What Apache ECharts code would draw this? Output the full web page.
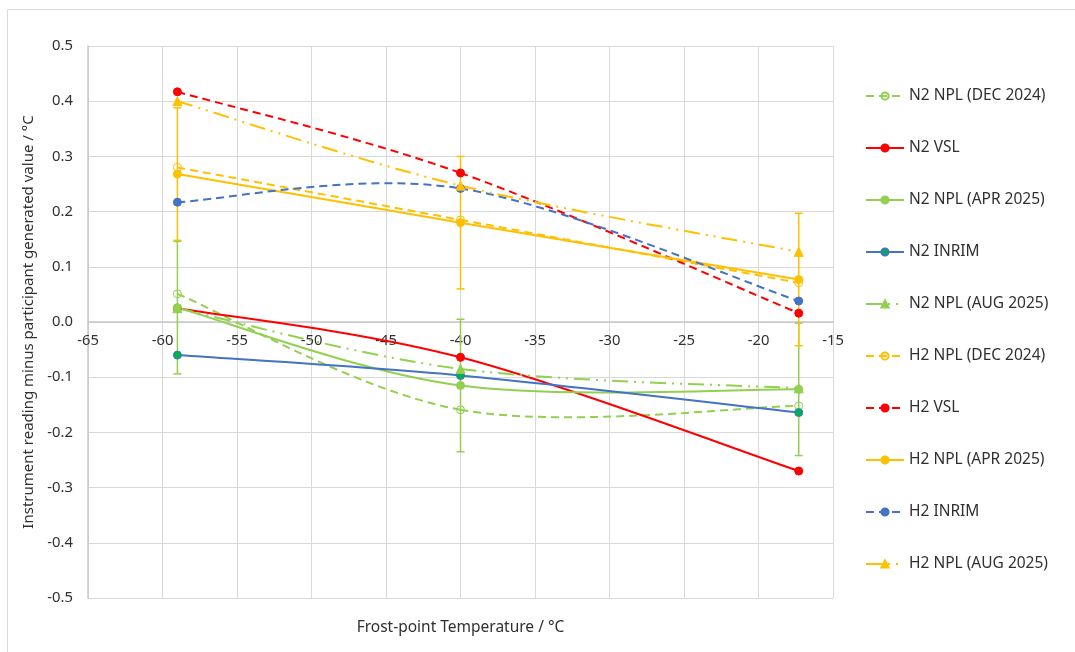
<!DOCTYPE html>
<html>
<head>
<meta charset="utf-8">
<script src="https://cdn.jsdelivr.net/npm/echarts@6/dist/echarts.min.js"></script>
<style>
html,body{margin:0;padding:0;background:#fff;}
#chart{width:1075px;height:652px;}
</style>
</head>
<body>
<div id="chart"></div>
<script>
// ---- data ----
const xValues = [-59, -40, -17.3];
const n2NplDec = [0.051, -0.159, -0.152];
const n2Vsl    = [0.025, -0.064, -0.270];
const n2NplApr = [0.026, -0.115, -0.122];
const n2Inrim  = [-0.060, -0.097, -0.164];
const n2NplAug = [0.025, -0.085, -0.120];
const h2NplDec = [0.280, 0.185, 0.071];
const h2Vsl    = [0.417, 0.270, 0.016];
const h2NplApr = [0.268, 0.180, 0.077];
const h2Inrim  = [0.217, 0.242, 0.038];
const h2NplAug = [0.400, 0.247, 0.127];
const n2NplAprErr = [0.12, 0.12, 0.12];
const h2NplAprErr = [0.12, 0.12, 0.12];
const seriesNames = ['N2 NPL (DEC 2024)','N2 VSL','N2 NPL (APR 2025)','N2 INRIM','N2 NPL (AUG 2025)',
                     'H2 NPL (DEC 2024)','H2 VSL','H2 NPL (APR 2025)','H2 INRIM','H2 NPL (AUG 2025)'];
const xTicks = {min: -65, max: -15, interval: 5};
const yTicks = {min: -0.5, max: 0.5, interval: 0.1};

const GREEN = '#92D050', RED = '#FF0000', BLUE = '#4472C4', GOLD = '#FFC000', TEAL = '#00B050';
const FONT = 'Noto Sans';
const DASH = [8, 5];
const LDDD = [16, 6, 2, 6, 2, 6];

function pts(arr){ return xValues.map((x,i)=>[x, arr[i]]); }

// smoothed curve (Catmull-Rom style, like a spreadsheet's smoothed line) through the axis coordinates
function curveSeries(arr, color, dash){
  return {
    type: 'custom', silent: true, z: 3,
    data: pts(arr), encode: {x: 0, y: 1},
    renderItem: function(params, api){
      if (params.dataIndex !== 0) return null;
      const p = xValues.map((x,i)=>api.coord([x, arr[i]]));
      const n = p.length, kids = [];
      for (let i = 0; i < n - 1; i++){
        const a = p[Math.max(i-1,0)], b = p[i], c = p[i+1], d = p[Math.min(i+2,n-1)];
        kids.push({type: 'bezierCurve', shape: {
          x1: b[0], y1: b[1], x2: c[0], y2: c[1],
          cpx1: b[0] + (c[0]-a[0])/6, cpy1: b[1] + (c[1]-a[1])/6,
          cpx2: c[0] - (d[0]-b[0])/6, cpy2: c[1] - (d[1]-b[1])/6},
          style: {fill: null, stroke: color, lineWidth: 2, lineDash: dash || null}});
      }
      return {type: 'group', children: kids};
    }
  };
}
function markerSeries(name, arr, color, dash, symbol, fill, border){
  return {
    name: name, type: 'line', data: pts(arr),
    symbol: symbol, symbolSize: symbol === 'triangle' ? 9 : 8,
    lineStyle: {color: color, width: 2, type: dash || 'solid', opacity: 0},
    itemStyle: {color: fill, borderColor: border || fill, borderWidth: 1},
    z: 4
  };
}
function errSeries(arr, err, color){
  return {
    type: 'custom', silent: true, z: 2,
    data: xValues.map((x,i)=>[x, arr[i], err[i]]),
    encode: {x: 0, y: 1},
    renderItem: function(params, api){
      const x = api.value(0), y = api.value(1), e = api.value(2);
      const t = api.coord([x, y + e]), b = api.coord([x, y - e]);
      const hw = 4;
      const st = {stroke: color, lineWidth: 1.5};
      return {type: 'group', children: [
        {type: 'line', shape: {x1: t[0], y1: t[1], x2: b[0], y2: b[1]}, style: st},
        {type: 'line', shape: {x1: t[0]-hw, y1: t[1], x2: t[0]+hw, y2: t[1]}, style: st},
        {type: 'line', shape: {x1: b[0]-hw, y1: b[1], x2: b[0]+hw, y2: b[1]}, style: st}
      ]};
    }
  };
}

const defs = [
  [n2NplDec, GREEN, DASH, 'circle', 'rgba(255,255,255,0)', GREEN],
  [n2Vsl,    RED,   null, 'circle', RED],
  [n2NplApr, GREEN, null, 'circle', GREEN],
  [n2Inrim,  BLUE,  null, 'circle', TEAL, BLUE],
  [n2NplAug, GREEN, LDDD, 'triangle', GREEN],
  [h2NplDec, GOLD,  DASH, 'circle', 'rgba(255,255,255,0)', GOLD],
  [h2Vsl,    RED,   DASH, 'circle', RED],
  [h2NplApr, GOLD,  null, 'circle', GOLD],
  [h2Inrim,  BLUE,  DASH, 'circle', BLUE],
  [h2NplAug, GOLD,  LDDD, 'triangle', GOLD]
];

const series = [errSeries(n2NplApr, n2NplAprErr, GREEN), errSeries(h2NplApr, h2NplAprErr, GOLD)];
defs.forEach((d, i) => {
  series.push(curveSeries(d[0], d[1], d[2]));
  series.push(markerSeries(seriesNames[i], d[0], d[1], d[2], d[3], d[4], d[5]));
});

const chart = echarts.init(document.getElementById('chart'));
chart.setOption({
  animation: false,
  backgroundColor: '#fff',
  textStyle: {fontFamily: FONT},
  graphic: [{type: 'rect', z: -10, silent: true,
    shape: {x: 7.5, y: 9.5, width: 1200, height: 1000},
    style: {fill: 'none', stroke: '#D9D9D9', lineWidth: 1}}],
  grid: {left: 88, right: 242, top: 46, bottom: 54, containLabel: false, outerBoundsMode: 'none'},
  legend: {
    orient: 'vertical', left: 860, top: 83,
    itemWidth: 38, itemHeight: 9, itemGap: 36,
    data: seriesNames,
    lineStyle: {opacity: 1},
    textStyle: {fontFamily: FONT, fontSize: 15.5, color: '#303030', lineHeight: 15}
  },
  xAxis: {
    type: 'value', min: xTicks.min, max: xTicks.max, interval: xTicks.interval,
    position: 'bottom', offset: -276,
    name: 'Frost-point Temperature / °C', nameLocation: 'middle', nameGap: 298,
    nameTextStyle: {fontFamily: FONT, fontSize: 15.5, color: '#303030', verticalAlign: 'top'},
    axisLine: {onZero: false, lineStyle: {color: '#C8C8C8', width: 1.5}},
    axisTick: {show: false},
    axisLabel: {fontFamily: FONT, fontSize: 14.8, color: '#303030', margin: 11},
    splitLine: {show: true, lineStyle: {color: '#D9D9D9', width: 1}}
  },
  yAxis: {
    type: 'value', min: yTicks.min, max: yTicks.max, interval: yTicks.interval,
    name: 'Instrument reading minus participant generated value / °C',
    nameLocation: 'middle', nameGap: 40, nameRotate: 90,
    nameTextStyle: {fontFamily: FONT, fontSize: 15, color: '#303030'},
    axisLine: {show: true, onZero: false, lineStyle: {color: '#C8C8C8', width: 1.5}},
    axisTick: {show: false},
    axisLabel: {fontFamily: FONT, fontSize: 14.8, color: '#303030', margin: 15,
      formatter: v => (Math.abs(v) < 1e-9 ? 0 : v).toFixed(1)},
    splitLine: {show: true, lineStyle: {color: '#D9D9D9', width: 1}}
  },
  series: series
});
</script>
</body>
</html>
